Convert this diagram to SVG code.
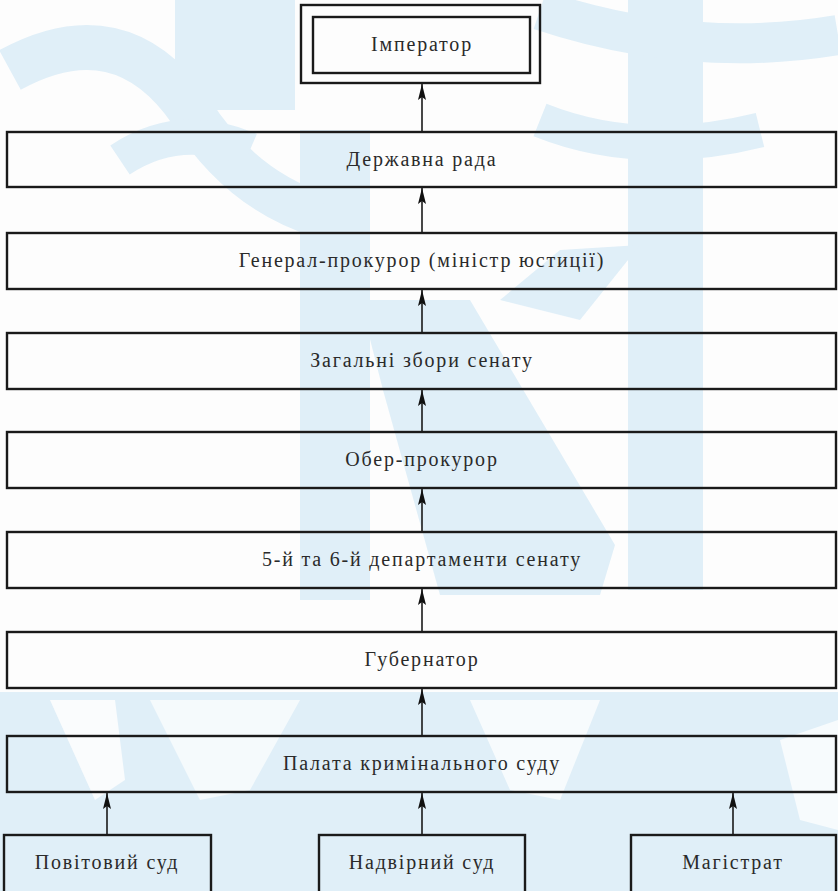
<svg xmlns="http://www.w3.org/2000/svg" width="838" height="891" viewBox="0 0 838 891">
<defs>
<marker id="ah" markerWidth="16" markerHeight="10" refX="16" refY="5" orient="auto" markerUnits="userSpaceOnUse" viewBox="0 0 16 10">
<path d="M16,5 L0,1 L3,5 L0,9 Z" fill="#111"/>
</marker>
</defs>
<style>
.box{fill:none;stroke:#1a1a1a;stroke-width:2.4}
.t{font-family:"Liberation Serif","DejaVu Serif",serif;font-size:20px;fill:#2a2a2a;text-anchor:middle;letter-spacing:1.8px}
.c{stroke:#1a1a1a;stroke-width:1.6;fill:none}
.wm{fill:#e0eff8;stroke:none}
.wms{fill:none;stroke:#e0eff8}
</style>
<rect width="838" height="891" fill="#fdfdfd"/>
<g id="watermark">
<rect class="wm" x="0" y="692" width="838" height="199"/>
<polygon points="50,700 115,700 125,780 95,800" fill="#fafcfd"/>
<polygon points="150,700 300,700 250,790 200,800" fill="#f5fafc"/>
<polygon points="470,700 600,700 560,800 510,790" fill="#f7fbfd"/>
<polygon points="780,740 838,720 838,830 800,820" fill="#f7fbfd"/>
<rect class="wm" x="628" y="0" width="75" height="590"/>
<rect class="wm" x="300" y="130" width="70" height="470"/>
<polygon class="wm" points="360,300 470,300 615,545 600,595 440,595 383,390"/>
<polygon class="wm" points="500,300 560,250 640,245 580,320"/>
<path class="wms" stroke-width="45" d="M10,70 Q120,10 190,110 Q240,190 320,215"/>
<path class="wms" stroke-width="35" d="M120,160 Q180,120 250,150"/>
<rect class="wm" x="175" y="0" width="120" height="110"/>
<path class="wms" stroke-width="40" d="M540,10 Q690,60 838,35"/>
<path class="wms" stroke-width="35" d="M540,120 Q640,160 760,130"/>
</g>
<g id="n0"><rect class="box" x="301" y="5" width="239" height="78"/><rect class="box" x="313" y="17" width="217" height="56"/><text class="t" x="422" y="51">Імператор</text></g>
<g id="n1"><rect class="box" x="7" y="132" width="829" height="55"/><text class="t" x="422" y="166">Державна рада</text></g>
<g id="n2"><rect class="box" x="7" y="233" width="829" height="56"/><text class="t" x="422" y="267">Генерал-прокурор (міністр юстиції)</text></g>
<g id="n3"><rect class="box" x="7" y="333" width="829" height="56"/><text class="t" x="422" y="367">Загальні збори сенату</text></g>
<g id="n4"><rect class="box" x="7" y="432" width="829" height="56"/><text class="t" x="422" y="466">Обер-прокурор</text></g>
<g id="n5"><rect class="box" x="7" y="532" width="829" height="56"/><text class="t" x="422" y="566">5-й та 6-й департаменти сенату</text></g>
<g id="n6"><rect class="box" x="7" y="632" width="829" height="56"/><text class="t" x="422" y="666">Губернатор</text></g>
<g id="n7"><rect class="box" x="7" y="736" width="829" height="56"/><text class="t" x="422" y="770">Палата кримінального суду</text></g>
<g id="n8"><rect class="box" x="4" y="835" width="207" height="70"/><text class="t" x="107" y="869">Повітовий суд</text></g>
<g id="n9"><rect class="box" x="319" y="835" width="206" height="70"/><text class="t" x="422" y="869">Надвірний суд</text></g>
<g id="n10"><rect class="box" x="631" y="835" width="205" height="70"/><text class="t" x="733" y="869">Магістрат</text></g>
<g id="connectors">
<line class="c" x1="422" y1="132" x2="422" y2="84" marker-end="url(#ah)"/>
<line class="c" x1="422" y1="233" x2="422" y2="188" marker-end="url(#ah)"/>
<line class="c" x1="422" y1="333" x2="422" y2="290" marker-end="url(#ah)"/>
<line class="c" x1="422" y1="432" x2="422" y2="390" marker-end="url(#ah)"/>
<line class="c" x1="422" y1="532" x2="422" y2="489" marker-end="url(#ah)"/>
<line class="c" x1="422" y1="632" x2="422" y2="589" marker-end="url(#ah)"/>
<line class="c" x1="422" y1="736" x2="422" y2="689" marker-end="url(#ah)"/>
<line class="c" x1="107" y1="835" x2="107" y2="793" marker-end="url(#ah)"/>
<line class="c" x1="422" y1="835" x2="422" y2="793" marker-end="url(#ah)"/>
<line class="c" x1="733" y1="835" x2="733" y2="793" marker-end="url(#ah)"/>
</g>
</svg>
